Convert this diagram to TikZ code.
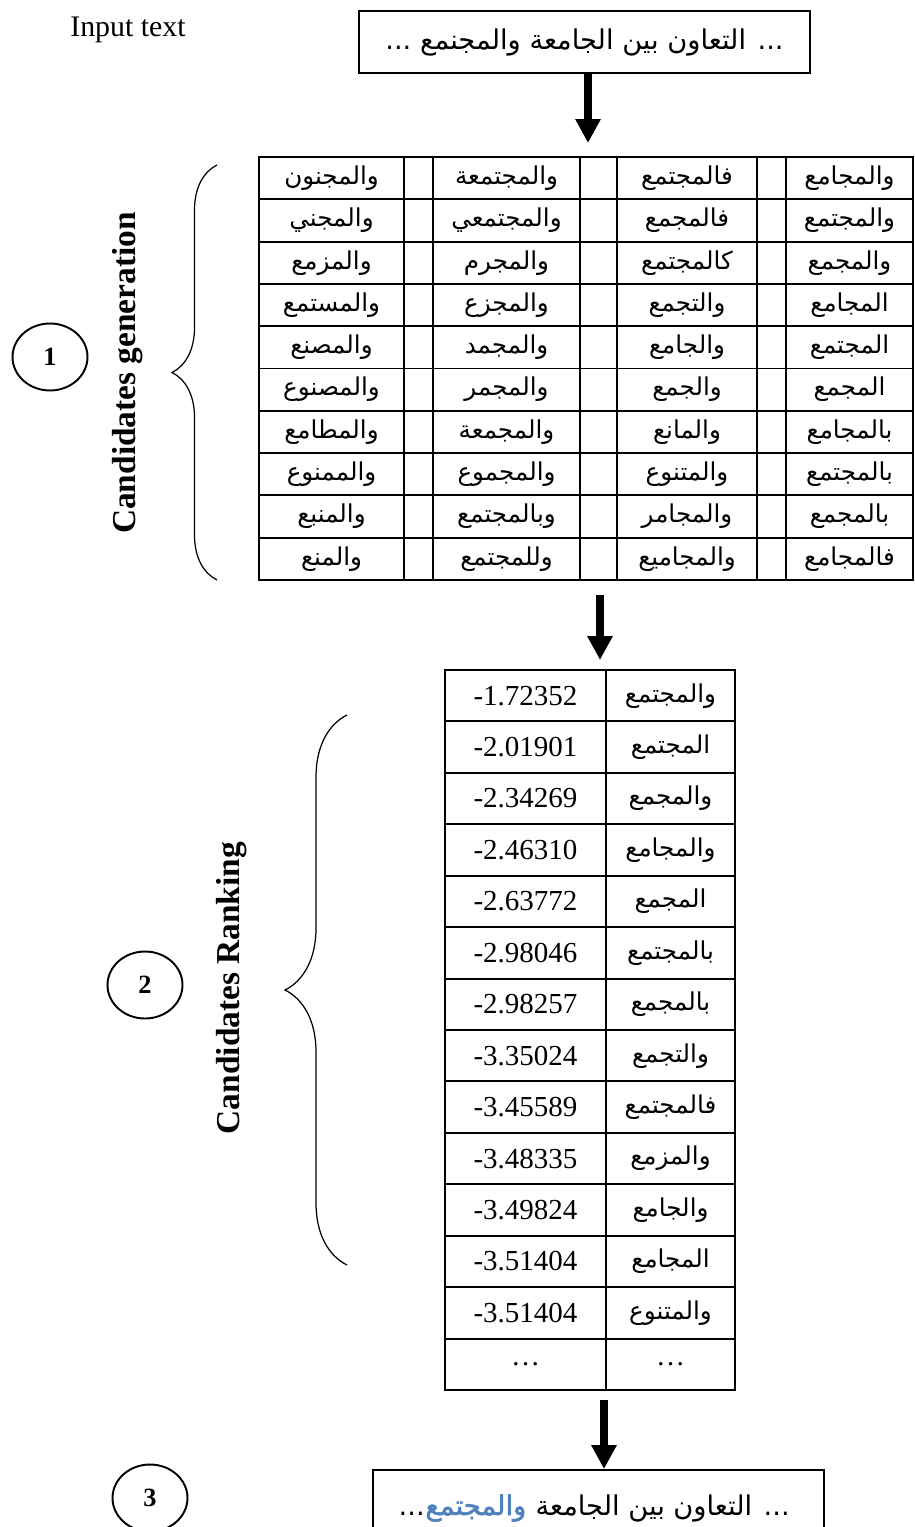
\documentclass[tikz,border=0pt]{standalone}
\usepackage{fontspec}
\setmainfont{Liberation Serif}
\newfontfamily\arabicfont[Script=Arabic]{DejaVu Sans}
\newfontfamily\arabicbold[Script=Arabic, FakeBold=2]{DejaVu Sans}
\TeXXeTstate=1
\usetikzlibrary{arrows.meta,decorations.pathreplacing,shapes.geometric}
\definecolor{wordblue}{HTML}{4F81BD}
\tikzset{
    grid/.style={line width=1.1pt, line cap=rect},
    cell/.style={inner sep=0pt, font=\arabicfont\fontsize{14}{16}\selectfont},
    num/.style={inner sep=0pt, font=\fontsize{16.5}{18}\selectfont},
    textbox/.style={draw, line width=1.1pt, inner sep=0pt, minimum width=9.02cm, font=\arabicfont\fontsize{15.5}{18}\selectfont},
    outtext/.style={inner sep=0pt, anchor=base east, font=\arabicfont\fontsize{15.5}{18}\selectfont},
    bigarrow/.style={line width=4.5pt, -{Triangle[width=13.6pt, length=13.6pt]}},
    stepnum/.style={ellipse, draw, line width=1.1pt, inner sep=0pt, minimum width=1.5cm, minimum height=1.34cm, font=\bfseries\fontsize{15}{17}\selectfont},
    phase/.style={rotate=90, inner sep=0pt, font=\bfseries\fontsize{19}{21}\selectfont},
    bracket/.style={decorate, line width=0.7pt}
}
\begin{document}
\begin{tikzpicture}[x=0.02cm, y=-0.02cm]
    \useasboundingbox (0,0) rectangle (914,1527);
    \def\rowa{42.3} % row height, candidates table
    \def\rowb{51.43} % row height, ranking table

    % Input text
    \node[inner sep=0pt, font=\fontsize{17}{19}\selectfont] (intext) at (128,30) {Input text};
    \node[textbox, minimum height=1.24cm] (inbox) at (584.5,42) {\beginR ... التعاون بين الجامعة والمجنمع ...\endR};
    \coordinate (t1in) at (588,143);
    \draw[bigarrow] (inbox.south -| t1in) -- (t1in);

    % Candidates table
    \foreach \r in {0,...,10}
        \draw[grid] (259,{157+\r*\rowa}) -- (913,{157+\r*\rowa});
    \foreach \x in {259,404,433,580,617,757,786,913}
        \draw[grid] (\x,157) -- (\x,580);
    \foreach \w [count=\r] in {والمجامع,والمجتمع,والمجمع,المجامع,المجتمع,المجمع,بالمجامع,بالمجتمع,بالمجمع,فالمجامع}
        \node[cell] (cand-4-\r) at (849.5,{157+(\r-0.5)*\rowa}) {\beginR\w\endR};
    \foreach \w [count=\r] in {فالمجتمع,فالمجمع,كالمجتمع,والتجمع,والجامع,والجمع,والمانع,والمتنوع,والمجامر,والمجاميع}
        \node[cell] (cand-3-\r) at (687,{157+(\r-0.5)*\rowa}) {\beginR\w\endR};
    \foreach \w [count=\r] in {والمجتمعة,والمجتمعي,والمجرم,والمجزع,والمجمد,والمجمر,والمجمعة,والمجموع,وبالمجتمع,وللمجتمع}
        \node[cell] (cand-2-\r) at (506.5,{157+(\r-0.5)*\rowa}) {\beginR\w\endR};
    \foreach \w [count=\r] in {والمجنون,والمجني,والمزمع,والمستمع,والمصنع,والمصنوع,والمطامع,والممنوع,والمنبع,والمنع}
        \node[cell] (cand-1-\r) at (331.5,{157+(\r-0.5)*\rowa}) {\beginR\w\endR};

    % Step 1
    \node[stepnum] (step-1) at (50,357) {1};
    \node[phase] (gen-label) at (128,373) {Candidates generation};
    \draw[bracket, decoration={brace, amplitude=0.9cm}] (217,580) -- (217,165);

    \coordinate (t1out) at (600,595);
    \coordinate (t2in) at (600,660);
    \draw[bigarrow] (t1out) -- (t2in);

    % Ranking table
    \foreach \r in {0,...,14}
        \draw[grid] (445,{670+\r*\rowb}) -- (735,{670+\r*\rowb});
    \foreach \x in {445,606,735}
        \draw[grid] (\x,670) -- (\x,1390);
    \foreach \w/\v [count=\r] in {والمجتمع/-1.72352,المجتمع/-2.01901,والمجمع/-2.34269,والمجامع/-2.46310,المجمع/-2.63772,بالمجتمع/-2.98046,بالمجمع/-2.98257,والتجمع/-3.35024,فالمجتمع/-3.45589,والمزمع/-3.48335,والجامع/-3.49824,المجامع/-3.51404,والمتنوع/-3.51404}{
        \node[cell] (word-\r) at (670.5,{670+(\r-0.5)*\rowb}) {\beginR\w\endR};
        \node[num] (score-\r) at (525.5,{670+(\r-0.5)*\rowb}) {\v};
    }
    \node[num] (word-14) at (670.5,{670+13.5*\rowb}) {\ldots};
    \node[num] (score-14) at (525.5,{670+13.5*\rowb}) {\ldots};

    % Step 2
    \node[stepnum] (step-2) at (145,985) {2};
    \node[phase] (rank-label) at (232,988) {Candidates Ranking};
    \draw[bracket, decoration={brace, amplitude=1.24cm}] (347,1265) -- (347,715);

    % Step 3
    \node[stepnum] (step-3) at (150,1498) {3};
    \node[textbox, minimum height=1.48cm] (outbox) at (598.5,1507) {};
    \node[outtext] (out-a) at (790,1515) {\beginR ... التعاون بين الجامعة \endR};
    \node[outtext, text=wordblue, font=\arabicbold\fontsize{15.5}{18}\selectfont] (out-b) at (out-a.base west) {\beginR والمجتمع\endR};
    \node[outtext] (out-c) at (out-b.base west) {...};
    \coordinate (t2out) at (604,1400);
    \draw[bigarrow] (t2out) -- (t2out |- outbox.north);
\end{tikzpicture}
\end{document}
